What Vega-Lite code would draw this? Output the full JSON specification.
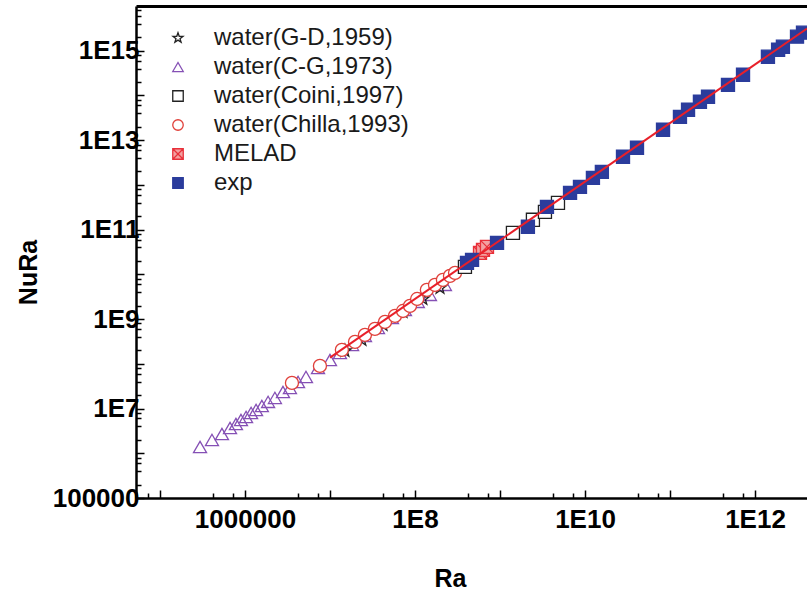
{
  "$schema": "https://vega.github.io/schema/vega-lite/v6.json",
  "width": 671,
  "height": 492,
  "autosize": "none",
  "padding": {"left": 136, "top": 6, "right": 0, "bottom": 97},
  "background": "white",
  "config": {"view": {"stroke": null}, "font": "Liberation Sans"},
  "resolve": {"axis": {"x": "independent", "y": "independent"}},
  "layer": [
    {
      "data": {"values": [
        {"s": "water(C-G,1973)", "Ra": 2.96e5, "NuRa": 1.38e6},
        {"s": "water(C-G,1973)", "Ra": 4.09e5, "NuRa": 1.99e6},
        {"s": "water(C-G,1973)", "Ra": 5.36e5, "NuRa": 2.70e6},
        {"s": "water(C-G,1973)", "Ra": 6.67e5, "NuRa": 3.68e6},
        {"s": "water(C-G,1973)", "Ra": 7.83e5, "NuRa": 4.52e6},
        {"s": "water(C-G,1973)", "Ra": 8.97e5, "NuRa": 5.56e6},
        {"s": "water(C-G,1973)", "Ra": 1.03e6, "NuRa": 6.49e6},
        {"s": "water(C-G,1973)", "Ra": 1.18e6, "NuRa": 7.98e6},
        {"s": "water(C-G,1973)", "Ra": 1.35e6, "NuRa": 9.31e6},
        {"s": "water(C-G,1973)", "Ra": 1.58e6, "NuRa": 1.14e7},
        {"s": "water(C-G,1973)", "Ra": 1.87e6, "NuRa": 1.41e7},
        {"s": "water(C-G,1973)", "Ra": 2.25e6, "NuRa": 1.73e7},
        {"s": "water(C-G,1973)", "Ra": 2.80e6, "NuRa": 2.35e7},
        {"s": "water(C-G,1973)", "Ra": 3.38e6, "NuRa": 2.89e7},
        {"s": "water(C-G,1973)", "Ra": 4.21e6, "NuRa": 3.94e7},
        {"s": "water(C-G,1973)", "Ra": 5.22e6, "NuRa": 5.09e7},
        {"s": "water(C-G,1973)", "Ra": 7.23e6, "NuRa": 8.09e7},
        {"s": "water(C-G,1973)", "Ra": 1.0e7, "NuRa": 1.22e8},
        {"s": "water(C-G,1973)", "Ra": 1.31e7, "NuRa": 1.75e8},
        {"s": "water(C-G,1973)", "Ra": 1.82e7, "NuRa": 2.65e8},
        {"s": "water(C-G,1973)", "Ra": 2.58e7, "NuRa": 4.21e8},
        {"s": "water(C-G,1973)", "Ra": 3.67e7, "NuRa": 6.35e8},
        {"s": "water(C-G,1973)", "Ra": 5.36e7, "NuRa": 1.06e9},
        {"s": "water(C-G,1973)", "Ra": 7.62e7, "NuRa": 1.61e9},
        {"s": "water(C-G,1973)", "Ra": 1.08e8, "NuRa": 2.43e9},
        {"s": "water(C-G,1973)", "Ra": 1.50e8, "NuRa": 3.48e9},
        {"s": "water(C-G,1973)", "Ra": 2.25e8, "NuRa": 5.82e9},
        {"s": "water(G-D,1959)", "Ra": 1.50e7, "NuRa": 1.95e8},
        {"s": "water(G-D,1959)", "Ra": 2.38e7, "NuRa": 3.43e8},
        {"s": "water(G-D,1959)", "Ra": 4.21e7, "NuRa": 7.41e8},
        {"s": "water(G-D,1959)", "Ra": 7.23e7, "NuRa": 1.45e9},
        {"s": "water(G-D,1959)", "Ra": 1.24e8, "NuRa": 2.83e9},
        {"s": "water(G-D,1959)", "Ra": 1.97e8, "NuRa": 4.99e9},
        {"s": "water(Chilla,1993)", "Ra": 3.57e6, "NuRa": 3.74e7},
        {"s": "water(Chilla,1993)", "Ra": 7.62e6, "NuRa": 8.97e7},
        {"s": "water(Chilla,1993)", "Ra": 1.38e7, "NuRa": 2.05e8},
        {"s": "water(Chilla,1993)", "Ra": 1.97e7, "NuRa": 3.09e8},
        {"s": "water(Chilla,1993)", "Ra": 2.58e7, "NuRa": 4.44e8},
        {"s": "water(Chilla,1993)", "Ra": 3.38e7, "NuRa": 6.04e8},
        {"s": "water(Chilla,1993)", "Ra": 4.44e7, "NuRa": 8.65e8},
        {"s": "water(Chilla,1993)", "Ra": 5.82e7, "NuRa": 1.18e9},
        {"s": "water(Chilla,1993)", "Ra": 7.23e7, "NuRa": 1.52e9},
        {"s": "water(Chilla,1993)", "Ra": 8.73e7, "NuRa": 1.97e9},
        {"s": "water(Chilla,1993)", "Ra": 1.06e8, "NuRa": 2.82e9},
        {"s": "water(Chilla,1993)", "Ra": 1.38e8, "NuRa": 4.50e9},
        {"s": "water(Chilla,1993)", "Ra": 1.72e8, "NuRa": 5.82e9},
        {"s": "water(Chilla,1993)", "Ra": 2.13e8, "NuRa": 7.53e9},
        {"s": "water(Chilla,1993)", "Ra": 2.58e8, "NuRa": 9.25e9},
        {"s": "water(Chilla,1993)", "Ra": 2.96e8, "NuRa": 1.08e10},
        {"s": "water(Coini,1997)", "Ra": 3.87e8, "NuRa": 1.47e10},
        {"s": "water(Coini,1997)", "Ra": 1.42e9, "NuRa": 8.47e10},
        {"s": "water(Coini,1997)", "Ra": 2.44e9, "NuRa": 1.66e11},
        {"s": "water(Coini,1997)", "Ra": 3.38e9, "NuRa": 2.50e11},
        {"s": "water(Coini,1997)", "Ra": 4.81e9, "NuRa": 3.98e11},
        {"s": "MELAD", "Ra": 5.82e8, "NuRa": 3.03e10},
        {"s": "MELAD", "Ra": 6.31e8, "NuRa": 3.53e10},
        {"s": "MELAD", "Ra": 7.03e8, "NuRa": 4.12e10},
        {"s": "exp", "Ra": 4.09e8, "NuRa": 1.81e10},
        {"s": "exp", "Ra": 4.69e8, "NuRa": 2.11e10},
        {"s": "exp", "Ra": 9.23e8, "NuRa": 5.07e10},
        {"s": "exp", "Ra": 2.13e9, "NuRa": 1.16e11},
        {"s": "exp", "Ra": 3.57e9, "NuRa": 3.24e11},
        {"s": "exp", "Ra": 6.67e9, "NuRa": 6.65e11},
        {"s": "exp", "Ra": 8.73e9, "NuRa": 9.06e11},
        {"s": "exp", "Ra": 1.24e10, "NuRa": 1.44e12},
        {"s": "exp", "Ra": 1.58e10, "NuRa": 1.96e12},
        {"s": "exp", "Ra": 2.80e10, "NuRa": 4.26e12},
        {"s": "exp", "Ra": 4.09e10, "NuRa": 6.76e12},
        {"s": "exp", "Ra": 8.28e10, "NuRa": 1.71e13},
        {"s": "exp", "Ra": 1.31e11, "NuRa": 3.33e13},
        {"s": "exp", "Ra": 1.63e11, "NuRa": 4.79e13},
        {"s": "exp", "Ra": 2.25e11, "NuRa": 7.23e13},
        {"s": "exp", "Ra": 2.80e11, "NuRa": 9.35e13},
        {"s": "exp", "Ra": 4.81e11, "NuRa": 1.73e14},
        {"s": "exp", "Ra": 7.23e11, "NuRa": 2.90e14},
        {"s": "exp", "Ra": 1.42e12, "NuRa": 7.35e14},
        {"s": "exp", "Ra": 1.87e12, "NuRa": 1.05e15},
        {"s": "exp", "Ra": 2.13e12, "NuRa": 1.23e15},
        {"s": "exp", "Ra": 3.12e12, "NuRa": 2.06e15},
        {"s": "exp", "Ra": 3.67e12, "NuRa": 2.53e15}
      ]},
      "mark": {"type": "point", "size": 170, "strokeWidth": 1.3, "opacity": 1, "clip": true},
      "encoding": {
        "x": {
          "field": "Ra", "type": "quantitative",
          "scale": {"type": "log", "domain": [52240, 4.09e12], "nice": false},
          "axis": {
            "orient": "bottom",
            "values": [7.2e4, 1e5, 4.2e5, 7.2e5, 1e6, 4.2e6, 7.2e6, 1e7, 4.2e7, 7.2e7, 1e8, 4.2e8, 7.2e8, 1e9, 4.2e9, 7.2e9, 1e10, 4.2e10, 7.2e10, 1e11, 4.2e11, 7.2e11, 1e12, 4.2e12],
            "labelExpr": "datum.value == 1e6 ? '1000000' : ((abs(log(datum.value)/LN10 - round(log(datum.value)/LN10)) < 0.01 && round(log(datum.value)/LN10) % 2 == 0 && datum.value > 1e7) ? '1E' + round(log(datum.value)/LN10) : '')",
            "grid": false,
            "tickSize": {"condition": {"test": "abs(log(datum.value)/LN10 - round(log(datum.value)/LN10)) < 0.01", "value": -8}, "value": -5},
            "tickColor": "black", "tickWidth": 1.5,
            "domainColor": "black", "domainWidth": 2.5,
            "labelFont": "Liberation Sans", "labelFontSize": 26, "labelFontWeight": "bold", "labelColor": "black",
            "labelPadding": 16, "labelOverlap": false, "labelFlush": false,
            "title": "Ra", "titleFont": "Liberation Sans", "titleFontSize": 25, "titleFontWeight": "bold", "titleColor": "black",
            "titleX": 314, "titleY": 80, "titleBaseline": "middle", "titleAlign": "center"
          }
        },
        "y": {
          "field": "NuRa", "type": "quantitative",
          "scale": {"type": "log", "domain": [1e5, 1e16], "nice": false},
          "axis": {
            "orient": "left",
            "values": [1e5, 2e5, 4e5, 6e5, 8e5, 1e6, 2e6, 4e6, 6e6, 8e6, 1e7, 2e7, 4e7, 6e7, 8e7, 1e8, 2e8, 4e8, 6e8, 8e8, 1e9, 2e9, 4e9, 6e9, 8e9, 1e10, 2e10, 4e10, 6e10, 8e10, 1e11, 2e11, 4e11, 6e11, 8e11, 1e12, 2e12, 4e12, 6e12, 8e12, 1e13, 2e13, 4e13, 6e13, 8e13, 1e14, 2e14, 4e14, 6e14, 8e14, 1e15, 2e15, 4e15, 6e15, 8e15],
            "labelExpr": "datum.value == 1e5 ? '100000' : ((abs(log(datum.value)/LN10 - round(log(datum.value)/LN10)) < 0.01 && round(log(datum.value)/LN10) % 2 == 1) ? '1E' + round(log(datum.value)/LN10) : '')",
            "grid": false,
            "tickSize": {"condition": {"test": "abs(log(datum.value)/LN10 - round(log(datum.value)/LN10)) < 0.01", "value": -8}, "value": -5},
            "tickColor": "black", "tickWidth": 1.5,
            "domainColor": "black", "domainWidth": 2.5,
            "labelFont": "Liberation Sans", "labelFontSize": 26, "labelFontWeight": "bold", "labelColor": "black",
            "labelPadding": 5, "labelOverlap": false, "labelFlush": false,
            "title": "NuRa", "titleFont": "Liberation Sans", "titleFontSize": 25, "titleFontWeight": "bold", "titleColor": "black",
            "titleX": -108, "titleY": 266, "titleBaseline": "middle", "titleAlign": "center", "titleAngle": -90
          }
        },
        "shape": {
          "field": "s", "type": "nominal",
          "scale": {
            "domain": ["water(G-D,1959)", "water(C-G,1973)", "water(Coini,1997)", "water(Chilla,1993)", "MELAD", "exp"],
            "range": ["M0,-1L0.235,-0.324L0.951,-0.309L0.38,0.124L0.588,0.809L0,0.4L-0.588,0.809L-0.38,0.124L-0.951,-0.309L-0.235,-0.324Z", "triangle-up", "square", "circle", "M-1,-1H1V1H-1ZM-1,-1L1,1M1,-1L-1,1", "square"]
          },
          "legend": {
            "orient": "none", "legendX": 30, "legendY": 20, "title": null,
            "labelFont": "Liberation Sans", "labelFontSize": 24, "labelColor": "#1a1a1a", "labelLimit": 400,
            "rowPadding": 5, "labelOffset": 24, "padding": 0, "symbolSize": 110, "symbolStrokeWidth": 1.3
          }
        },
        "stroke": {
          "field": "s", "type": "nominal",
          "scale": {
            "domain": ["water(G-D,1959)", "water(C-G,1973)", "water(Coini,1997)", "water(Chilla,1993)", "MELAD", "exp"],
            "range": ["#222222", "#8550b5", "#222222", "#e0403a", "#e8303a", "#2b3c9c"]
          },
          "legend": {
            "orient": "none", "legendX": 30, "legendY": 20, "title": null,
            "labelFont": "Liberation Sans", "labelFontSize": 24, "labelColor": "#1a1a1a", "labelLimit": 400,
            "rowPadding": 5, "labelOffset": 24, "padding": 0, "symbolSize": 110, "symbolStrokeWidth": 1.3
          }
        },
        "fill": {
          "field": "s", "type": "nominal",
          "scale": {
            "domain": ["water(G-D,1959)", "water(C-G,1973)", "water(Coini,1997)", "water(Chilla,1993)", "MELAD", "exp"],
            "range": ["transparent", "transparent", "white", "white", "#f3a0a0", "#2b3c9c"]
          },
          "legend": {
            "orient": "none", "legendX": 30, "legendY": 20, "title": null,
            "labelFont": "Liberation Sans", "labelFontSize": 24, "labelColor": "#1a1a1a", "labelLimit": 400,
            "rowPadding": 5, "labelOffset": 24, "padding": 0, "symbolSize": 110, "symbolStrokeWidth": 1.3
          }
        }
      }
    },
    {
      "data": {"values": [
        {"Ra": 1e7, "NuRa": 1.38e8},
        {"Ra": 4.09e12, "NuRa": 3.13e15}
      ]},
      "mark": {"type": "line", "color": "#e8202a", "strokeWidth": 2, "clip": true},
      "encoding": {
        "x": {
          "field": "Ra", "type": "quantitative",
          "scale": {"type": "log", "domain": [52240, 4.09e12], "nice": false},
          "axis": {"orient": "top", "labels": false, "ticks": false, "grid": false, "title": null, "domainColor": "black", "domainWidth": 3}
        },
        "y": {
          "field": "NuRa", "type": "quantitative",
          "scale": {"type": "log", "domain": [1e5, 1e16], "nice": false},
          "axis": null
        }
      }
    }
  ]
}
